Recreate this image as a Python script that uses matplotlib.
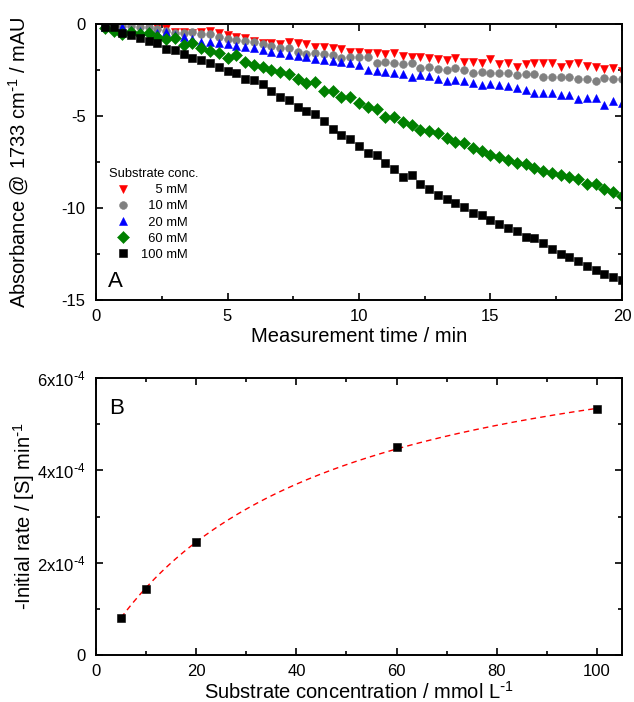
import numpy as np
import matplotlib
matplotlib.use("Agg")
import matplotlib.pyplot as plt
from matplotlib.ticker import MultipleLocator, FuncFormatter

plt.rcParams["font.family"] = ["Liberation Sans", "DejaVu Sans"]
plt.rcParams["mathtext.default"] = "regular"
plt.rcParams["axes.unicode_minus"] = False

# ---- panel A: absorbance traces (one reading every 20 s) ----
time_min = np.arange(1, 61) / 3.0

abs_5mM = [-0.05, 0.00, -0.05, -0.05, -0.14, -0.14, -0.18, -0.24, -0.42, -0.45,
           -0.47, -0.42, -0.36, -0.51, -0.62, -0.69, -0.78, -0.91, -1.05, -1.05,
           -1.09, -0.96, -1.05, -1.09, -1.27, -1.27, -1.32, -1.38, -1.50, -1.50,
           -1.59, -1.59, -1.65, -1.59, -1.74, -1.78, -1.81, -1.87, -1.92, -1.96,
           -1.87, -2.05, -2.05, -2.10, -1.92, -2.17, -2.10, -2.32, -2.17, -2.10,
           -2.14, -2.14, -2.32, -2.17, -2.14, -2.28, -2.32, -2.46, -2.41, -2.54]
abs_10mM = [-0.11, -0.05, -0.09, -0.11, -0.14, -0.18, -0.29, -0.36, -0.51, -0.51,
            -0.42, -0.54, -0.56, -0.69, -0.80, -0.89, -0.91, -0.96, -1.09, -1.21,
            -1.29, -1.32, -1.50, -1.62, -1.57, -1.62, -1.70, -1.85, -1.78, -1.80,
            -1.78, -2.14, -2.05, -2.14, -2.19, -2.14, -2.37, -2.32, -2.46, -2.50,
            -2.41, -2.50, -2.64, -2.59, -2.68, -2.68, -2.64, -2.77, -2.72, -2.72,
            -2.90, -2.90, -2.90, -2.90, -3.01, -3.01, -3.08, -2.95, -3.01, -3.01]
abs_20mM = [-0.14, -0.11, -0.18, -0.33, -0.36, -0.38, -0.51, -0.42, -0.60, -0.69,
            -0.83, -0.96, -0.96, -1.01, -1.08, -1.18, -1.25, -1.32, -1.40, -1.54,
            -1.60, -1.68, -1.76, -1.81, -1.90, -1.94, -2.03, -2.08, -2.13, -2.24,
            -2.50, -2.54, -2.59, -2.64, -2.72, -2.90, -2.77, -2.83, -3.01, -3.08,
            -3.04, -3.08, -3.19, -3.33, -3.26, -3.32, -3.37, -3.50, -3.59, -3.73,
            -3.77, -3.73, -3.86, -3.86, -4.06, -4.02, -4.04, -4.40, -4.20, -4.31]
abs_60mM = [-0.24, -0.38, -0.56, -0.42, -0.56, -0.51, -0.69, -0.83, -0.78, -1.14,
            -1.01, -1.32, -1.45, -1.59, -1.84, -1.68, -2.05, -2.21, -2.32, -2.48,
            -2.59, -2.72, -2.98, -3.18, -3.13, -3.62, -3.66, -3.95, -3.97, -4.29,
            -4.49, -4.64, -5.04, -5.07, -5.31, -5.49, -5.76, -5.82, -5.94, -6.21,
            -6.43, -6.49, -6.72, -6.88, -7.12, -7.21, -7.39, -7.54, -7.63, -7.81,
            -7.97, -8.08, -8.21, -8.30, -8.41, -8.70, -8.70, -8.99, -9.11, -9.35]
abs_100mM = [-0.18, -0.18, -0.47, -0.58, -0.78, -0.92, -1.05, -1.38, -1.39, -1.65,
             -1.85, -1.96, -2.14, -2.34, -2.54, -2.64, -3.01, -3.04, -3.28, -3.62,
             -3.99, -4.13, -4.53, -4.71, -4.91, -5.27, -5.69, -6.01, -6.25, -6.63,
             -6.99, -7.14, -7.54, -7.86, -8.30, -8.19, -8.68, -8.99, -9.28, -9.53,
             -9.75, -9.96, -10.27, -10.36, -10.67, -10.87, -11.09, -11.23, -11.56, -11.63,
             -11.92, -12.21, -12.52, -12.64, -12.88, -13.13, -13.37, -13.59, -13.73, -13.91]

# labels padded with spaces (2 spaces = 1 digit) so the numbers line up right
labels = ["    5 mM", "  10 mM", "  20 mM", "  60 mM", "100 mM"]
markers = ["v", "o", "^", "D", "s"]
colors = ["#ff0000", "#808080", "#0000ff", "#008000", "#000000"]
sizes = [6.3, 5.6, 6.3, 6.0, 5.3]
traces = [abs_5mM, abs_10mM, abs_20mM, abs_60mM, abs_100mM]

# ---- panel B: initial rates ----
substrate_mM = [5, 10, 20, 60, 100]
rate = [0.81e-4, 1.44e-4, 2.44e-4, 4.50e-4, 5.32e-4]

# Michaelis-Menten fit (scan Km, closed form for Vmax)
s_arr = np.array(substrate_mM, dtype=float)
r_arr = np.array(rate)
best = None
for km in np.linspace(1, 200, 4000):
    g = s_arr / (km + s_arr)
    vmax = (g @ r_arr) / (g @ g)
    err = np.sum((r_arr - vmax * g) ** 2)
    if best is None or err < best[0]:
        best = (err, km, vmax)
_, km_fit, vmax_fit = best
s_fit = np.linspace(min(substrate_mM), max(substrate_mM), 200)
r_fit = vmax_fit * s_fit / (km_fit + s_fit)

fig = plt.figure(figsize=(6.34, 7.02), dpi=100)
ax1 = fig.add_axes([96 / 634, 1 - 300 / 702, 526 / 634, 276 / 702])
ax2 = fig.add_axes([96 / 634, 1 - 655 / 702, 526 / 634, 277 / 702])

for lab, y, m, c, ms in zip(labels, traces, markers, colors, sizes):
    ax1.plot(time_min, y, linestyle="none", marker=m, color=c,
             markersize=ms, label=lab, markeredgewidth=0.4)

ax1.set_xlim(0, 20)
ax1.set_ylim(-15, 0)
ax1.xaxis.set_major_locator(MultipleLocator(5))
ax1.xaxis.set_minor_locator(MultipleLocator(2.5))
ax1.yaxis.set_major_locator(MultipleLocator(5))
ax1.yaxis.set_minor_locator(MultipleLocator(2.5))
ax1.set_xlabel("Measurement time / min", fontsize=14.5, labelpad=2)
ax1.set_ylabel(r"Absorbance @ 1733 cm$^{\text{-}1}$ / mAU", fontsize=14.5,
               labelpad=22)
ax1.text(0.023, 0.048, "A", transform=ax1.transAxes, fontsize=16,
         va="baseline", ha="left")
ax1.legend(title="Substrate conc.", loc="upper left",
           bbox_to_anchor=(0.025, 0.478), frameon=False,
           fontsize=9.3, title_fontsize=9.3, alignment="left",
           borderpad=0, borderaxespad=0, handlelength=2.2,
           handletextpad=0.3, labelspacing=0.32, markerscale=1.0)

ax2.plot(s_fit, r_fit, color="#ff0000", linestyle=(0, (4, 3)), linewidth=1.0)
ax2.plot(substrate_mM, rate, linestyle="none", marker="s", color="black",
         markersize=5.4, markeredgewidth=0.4)
ax2.set_xlim(0, 105)
ax2.set_ylim(0, 6e-4)
ax2.xaxis.set_major_locator(MultipleLocator(20))
ax2.xaxis.set_minor_locator(MultipleLocator(10))
ax2.yaxis.set_major_locator(MultipleLocator(2e-4))
ax2.yaxis.set_minor_locator(MultipleLocator(1e-4))


def sci_fmt(v, pos):
    if abs(v) < 1e-12:
        return "0"
    return r"%dx10$^{\text{-}4}$" % round(v / 1e-4)


ax2.yaxis.set_major_formatter(FuncFormatter(sci_fmt))
ax2.set_xlabel(r"Substrate concentration / mmol L$^{\text{-}1}$", fontsize=14.5,
               labelpad=1)
ax2.set_ylabel(r"-Initial rate / [S] min$^{\text{-}1}$", fontsize=14.5,
               labelpad=0)
ax2.text(0.025, 0.870, "B", transform=ax2.transAxes, fontsize=16,
         va="baseline", ha="left")

for ax in (ax1, ax2):
    for sp in ax.spines.values():
        sp.set_linewidth(1.4)
    ax.tick_params(which="both", direction="in", top=True, right=True,
                   labelsize=12, width=1.2)
    ax.tick_params(which="major", length=5)
    ax.tick_params(which="minor", length=3)
    ax.tick_params(axis="x", which="major", pad=6.5)
    ax.tick_params(axis="y", which="major", pad=7.5)

fig.savefig("out.png", dpi=100)
